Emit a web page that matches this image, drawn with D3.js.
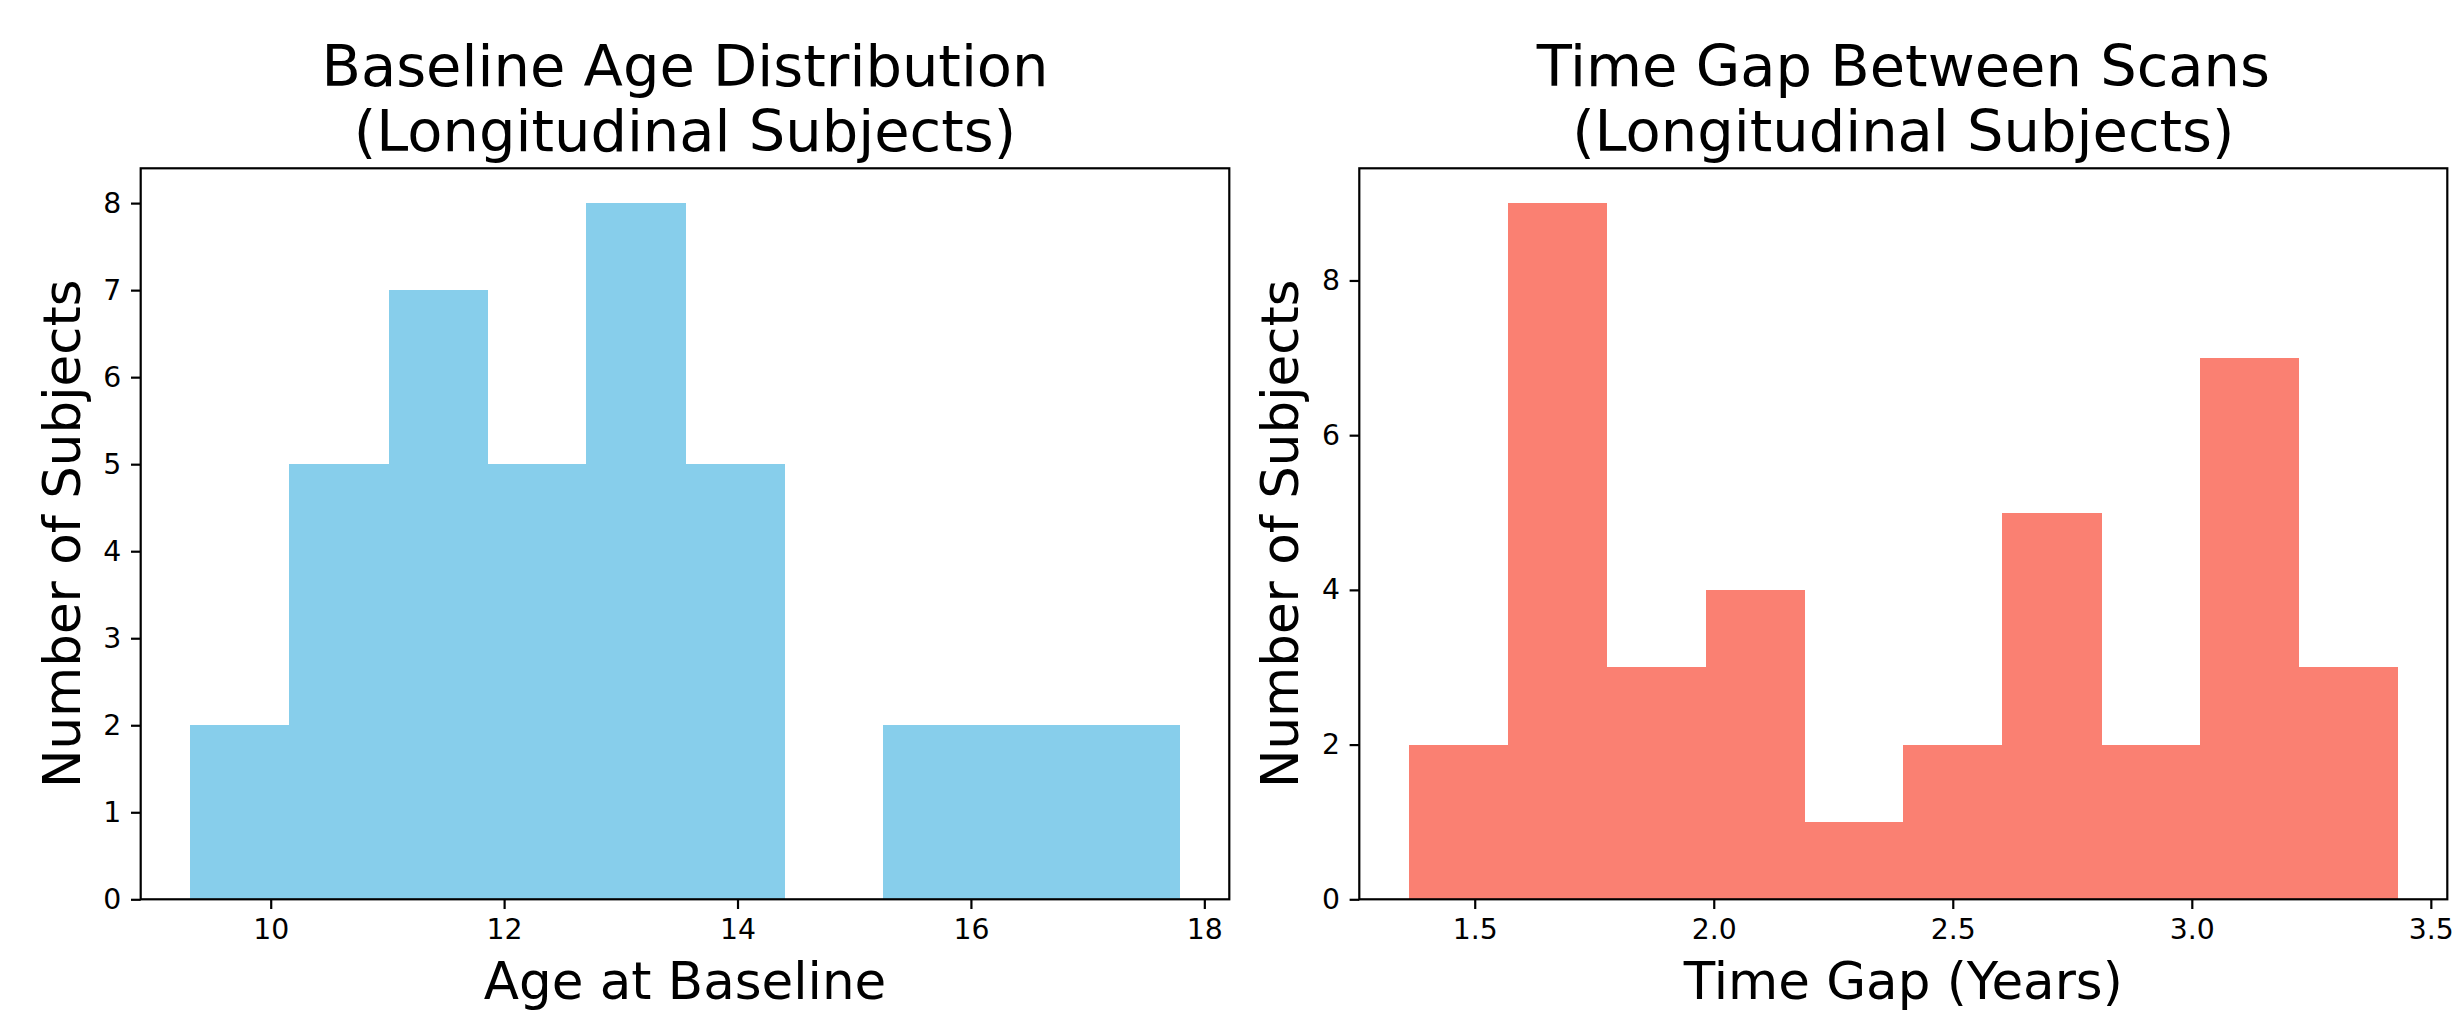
<!DOCTYPE html>
<html>
<head>
<meta charset="utf-8">
<script src="https://cdn.jsdelivr.net/npm/d3@7"></script>
<style>
  html, body { margin: 0; padding: 0; background: #fff; }
  svg text { font-family: "DejaVu Sans", sans-serif; fill: #000; }
</style>
</head>
<body>
<svg id="chart" width="2457" height="1014"></svg>
<script>
// ---- Data ----
const ageBinEdges = [9.31, 10.16, 11.01, 11.86, 12.70, 13.55, 14.40, 15.25, 16.09, 16.94, 17.79];
const ageCounts   = [2, 5, 7, 5, 8, 5, 0, 2, 2, 2];
const ageTicks    = [10, 12, 14, 16, 18];
const ageYTicks   = [0, 1, 2, 3, 4, 5, 6, 7, 8];

const gapBinEdges = [1.362, 1.569, 1.776, 1.983, 2.189, 2.396, 2.603, 2.810, 3.017, 3.224, 3.431];
const gapCounts   = [2, 9, 3, 4, 1, 2, 5, 2, 7, 3];
const gapTicks    = [1.5, 2.0, 2.5, 3.0, 3.5];
const gapYTicks   = [0, 2, 4, 6, 8];

const panels = [
  { edges: ageBinEdges, counts: ageCounts, xTicks: ageTicks, yTicks: ageYTicks, xFmt: d3.format("d"),
    color: "#87CEEB", title: ["Baseline Age Distribution", "(Longitudinal Subjects)"],
    xLabel: "Age at Baseline", yLabel: "Number of Subjects", left: 140.7, right: 1229.3 },
  { edges: gapBinEdges, counts: gapCounts, xTicks: gapTicks, yTicks: gapYTicks, xFmt: d3.format(".1f"),
    color: "#FA8072", title: ["Time Gap Between Scans", "(Longitudinal Subjects)"],
    xLabel: "Time Gap (Years)", yLabel: "Number of Subjects", left: 1359.3, right: 2447.3 }
];

const plotTop = 168.3, plotBottom = 899.3;
const tickFont = 28.3, labelFont = 51.5, titleFont = 57.5;
const tickLen = 9.7, tickPad = 9.7, lw = 2.2;

const svg = d3.select("#chart");

panels.forEach(p => {
  const lo = p.edges[0], hi = p.edges[p.edges.length - 1];
  const m = (hi - lo) * 0.05;
  const x = d3.scaleLinear().domain([lo - m, hi + m]).range([p.left, p.right]);
  const ymax = d3.max(p.counts) * 1.05;
  const y = d3.scaleLinear().domain([0, ymax]).range([plotBottom, plotTop]);

  const g = svg.append("g");

  // bars
  const bins = p.counts.map((c, i) => ({ x0: p.edges[i], x1: p.edges[i + 1], c }));
  g.selectAll("rect.bar").data(bins).enter().append("rect")
    .attr("class", "bar")
    .attr("x", d => x(d.x0))
    .attr("width", d => x(d.x1) - x(d.x0) + 0.6)
    .attr("y", d => y(d.c))
    .attr("height", d => y(0) - y(d.c))
    .attr("fill", p.color)
    .attr("shape-rendering", "crispEdges");

  // x axis
  const xAxis = d3.axisBottom(x).tickValues(p.xTicks).tickFormat(p.xFmt)
    .tickSizeInner(tickLen).tickSizeOuter(0).tickPadding(tickPad);
  const xg = g.append("g").attr("transform", `translate(0,${plotBottom})`).call(xAxis);
  xg.select(".domain").remove();
  xg.selectAll(".tick line").attr("stroke", "#000").attr("stroke-width", lw);
  xg.selectAll(".tick text").attr("font-size", tickFont).attr("font-family", "DejaVu Sans").attr("fill", "#000");

  // y axis
  const yAxis = d3.axisLeft(y).tickValues(p.yTicks).tickFormat(d3.format("d"))
    .tickSizeInner(tickLen).tickSizeOuter(0).tickPadding(tickPad);
  const yg = g.append("g").attr("transform", `translate(${p.left},0)`).call(yAxis);
  yg.select(".domain").remove();
  yg.selectAll(".tick line").attr("stroke", "#000").attr("stroke-width", lw);
  yg.selectAll(".tick text").attr("font-size", tickFont).attr("font-family", "DejaVu Sans").attr("fill", "#000");

  // frame (spines)
  g.append("rect")
    .attr("x", p.left).attr("y", plotTop)
    .attr("width", p.right - p.left).attr("height", plotBottom - plotTop)
    .attr("fill", "none").attr("stroke", "#000").attr("stroke-width", lw);

  // x label
  g.append("text")
    .attr("x", (p.left + p.right) / 2).attr("y", 999)
    .attr("text-anchor", "middle").attr("font-size", labelFont)
    .text(p.xLabel);

  // y label
  const ylx = p.left - tickLen - tickPad - 18 - 11 - 12.5;
  g.append("text")
    .attr("transform", `translate(${ylx},${(plotTop + plotBottom) / 2}) rotate(-90)`)
    .attr("text-anchor", "middle").attr("font-size", labelFont)
    .text(p.yLabel);

  // title
  const tb = [86, 151];
  p.title.forEach((t, i) => {
    g.append("text")
      .attr("x", (p.left + p.right) / 2).attr("y", tb[i])
      .attr("text-anchor", "middle").attr("font-size", titleFont)
      .text(t);
  });
});
</script>
</body>
</html>
